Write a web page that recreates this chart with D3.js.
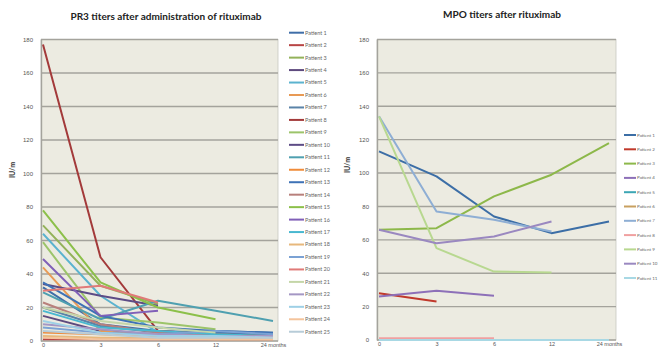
<!DOCTYPE html>
<html>
<head>
<meta charset="utf-8">
<script src="https://cdn.jsdelivr.net/npm/d3@7"></script>
<style>
  body { margin: 0; background: #fff; }
  svg { display: block; font-family: Lato, "Open Sans", sans-serif; }
</style>
</head>
<body>
<svg id="chart" width="661" height="350"></svg>
<script>
// Time points (x categories)
var months = ["0", "3", "6", "12", "24 months"];
var yTicks = [0, 20, 40, 60, 80, 100, 120, 140, 160, 180];

// PR3 titers, one row per patient (null = no measurement)
var pr3Names = d3.range(1, 26).map(function (i) { return "Patient " + i; });
var pr3Values = [
  [32, 10, 6, 5, 4],       // 1
  [1, 1, 1, 1, 1],         // 2
  [69, 33, 22, null, null],// 3
  [15, 6, 4, 3, 3],        // 4
  [64, 27, 5, 4, 3],       // 5
  [44, 6, 3, 2, 2],        // 6
  [20, 9, 5, 6, 5],        // 7
  [177, 50, 6, 4, 3],      // 8
  [59, 14, 11, 7, null],   // 9
  [34, 27, 21, null, null],// 10
  [29, 13, 24, 18, 12],    // 11
  [5, 4, 3, 2, 2],         // 12
  [35, 15, 8, 6, 5],       // 13
  [23, 10, 5, 3, 2],       // 14
  [78, 35, 20, 13, null],  // 15
  [49, 15, 18, null, null],// 16
  [18, 8, 6, 4, 3],        // 17
  [3, 2, 2, 1, 1],         // 18
  [8, 5, 4, 6, 4],         // 19
  [30, 33, 23, null, null],// 20
  [20, 12, 8, 5, null],    // 21
  [10, 7, 4, 3, 3],        // 22
  [12, 5, 3, 3, 2],        // 23
  [2, 1, 1, 1, 1],         // 24
  [6, 4, 2, 2, 2]          // 25
];
var pr3Colors = [
  "#3f6ea8", "#b84545", "#93b25a", "#5e4a7e", "#5bb3cf",
  "#e89a55", "#5a83a8", "#a33a3a", "#9cc46a", "#5d4c86",
  "#4fa0b0", "#f08c3a", "#3e72b6", "#b8807c", "#8cc04a",
  "#8060b8", "#48b8d0", "#e7b87c", "#7ba2d4", "#e07a78",
  "#c4d6a8", "#a497c4", "#9ed0e6", "#f4c49c", "#b7ccd8"
];

// MPO titers
var mpoNames = d3.range(1, 12).map(function (i) { return "Patient " + i; });
var mpoValues = [
  [113, 98, 74, 64, 71],       // 1
  [28, 23, null, null, null],  // 2
  [66, 67, 86, 99, 118],       // 3
  [26, 29.5, 26.5, null, null],// 4
  [0, 0, 0, 0, 0],             // 5
  [0, 0, 0, null, null],       // 6
  [134, 77, 72, 65, null],     // 7
  [1, 1, 1, null, null],       // 8
  [134, 55, 41, 40.5, null],   // 9
  [66, 58, 62, 71, null],      // 10
  [0, 0, 0, 0, 0]              // 11
];
var mpoColors = [
  "#3c6ea6", "#c0392b", "#8db84a", "#8d70b8", "#3ca6b4", "#c8a060",
  "#8eaed4", "#f0a0a0", "#b8d890", "#9a88c0", "#a8d8e4"
];

var svg = d3.select("#chart");

function drawPanel(o) {
  var g = svg.append("g");

  var x = d3.scalePoint().domain(months).range([o.pLeft, o.pRight]);
  var y = d3.scaleLinear().domain([0, 180]).range([o.bottom, o.top]);

  // Plot area background
  g.append("rect")
    .attr("x", o.left).attr("y", o.top)
    .attr("width", o.right - o.left).attr("height", o.bottom - o.top)
    .attr("fill", "#ecebe1").attr("stroke", "#c9c9c0").attr("stroke-width", 0.8);

  // Gridlines
  g.selectAll(".grid").data(yTicks).enter().append("line")
    .attr("x1", o.left).attr("x2", o.right)
    .attr("y1", function (d) { return y(d); }).attr("y2", function (d) { return y(d); })
    .attr("stroke", "#a4a39c").attr("stroke-width", 1.4);

  // Axes
  var yAxis = g.append("g").attr("transform", "translate(" + o.left + ",0)")
    .call(d3.axisLeft(y).tickValues(yTicks).tickSize(0).tickPadding(8));
  yAxis.select(".domain").attr("stroke", "#a4a39c").attr("stroke-width", 1.4);
  yAxis.selectAll("text").attr("font-size", 6).attr("fill", "#555");

  var xAxis = g.append("g").attr("transform", "translate(0," + o.bottom + ")")
    .call(d3.axisBottom(x).tickSize(0).tickPadding(2));
  xAxis.select(".domain").remove();
  xAxis.selectAll("text").attr("font-size", 5.5).attr("fill", "#555");

  // Lines
  var line = d3.line()
    .defined(function (d) { return d != null; })
    .x(function (d, i) { return x(months[i]); })
    .y(function (d) { return y(d); });

  g.selectAll(".series").data(o.values).enter().append("path")
    .attr("fill", "none")
    .attr("stroke", function (d, i) { return o.colors[i]; })
    .attr("stroke-width", o.lineWidth)
    .attr("stroke-linejoin", "round")
    .attr("d", line);

  // Titles
  g.append("text")
    .attr("x", o.titleX).attr("y", o.titleY)
    .attr("text-anchor", "middle").attr("font-size", 10).attr("font-weight", "bold")
    .attr("fill", "#222").text(o.title);

  g.append("text")
    .attr("transform", "translate(" + o.yTitleX + "," + o.yTitleY + ") rotate(-90)")
    .attr("text-anchor", "middle").attr("font-size", 7).attr("font-weight", "bold")
    .attr("fill", "#333").text("IU/m");

  // Legend
  var leg = g.selectAll(".leg").data(o.names).enter().append("g")
    .attr("transform", function (d, i) {
      return "translate(" + o.legX + "," + (o.legY + i * o.legStep) + ")";
    });
  leg.append("line")
    .attr("x1", 0).attr("x2", o.legLen).attr("y1", 0).attr("y2", 0)
    .attr("stroke", function (d, i) { return o.colors[i]; })
    .attr("stroke-width", 2);
  leg.append("text")
    .attr("x", o.legLen + 1).attr("y", 0).attr("dy", "0.35em")
    .attr("font-size", o.legFont).attr("fill", "#666").text(function (d) { return d; });
}

drawPanel({
  left: 41, right: 278, top: 39.5, bottom: 341,
  pLeft: 43, pRight: 273,
  values: pr3Values, colors: pr3Colors, names: pr3Names, lineWidth: 2,
  title: "PR3 titers after administration of rituximab", titleX: 166, titleY: 20,
  yTitleX: 15, yTitleY: 170,
  legX: 289, legY: 32.7, legStep: 12.46, legLen: 15, legFont: 5.5
});

drawPanel({
  left: 377, right: 616, top: 39.5, bottom: 340,
  pLeft: 379, pRight: 609,
  values: mpoValues, colors: mpoColors, names: mpoNames, lineWidth: 2,
  title: "MPO titers after rituximab", titleX: 502, titleY: 18,
  yTitleX: 350, yTitleY: 165,
  legX: 624, legY: 135, legStep: 14.3, legLen: 12, legFont: 4.5
});
</script>
</body>
</html>
